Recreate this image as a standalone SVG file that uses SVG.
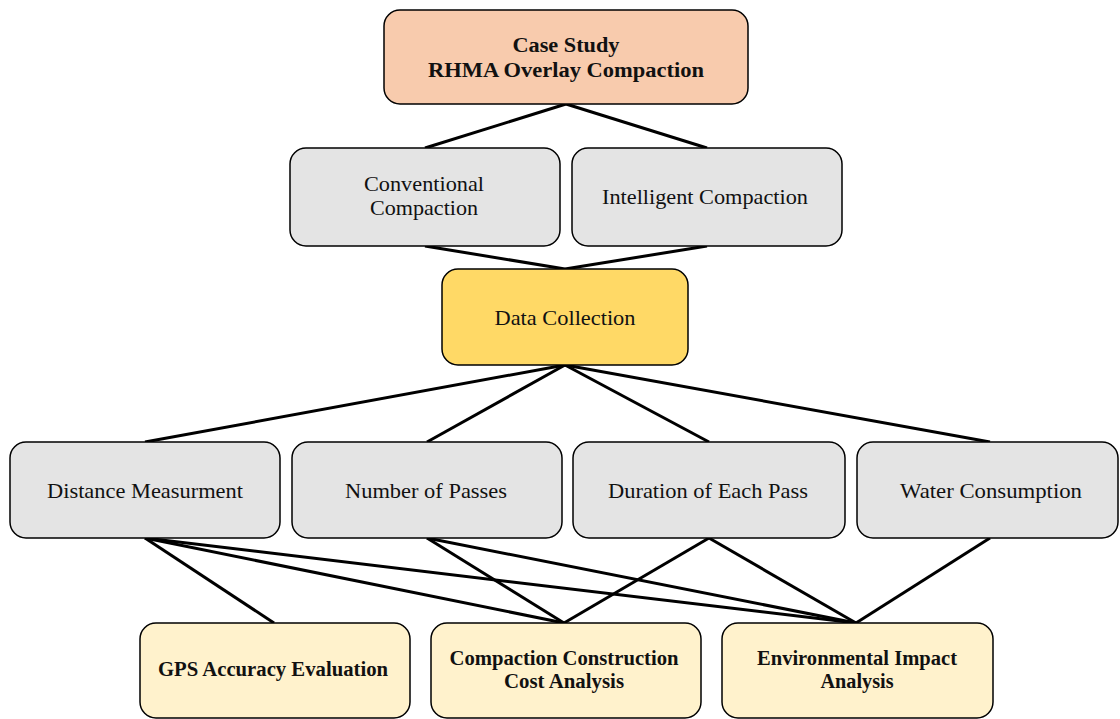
<svg xmlns="http://www.w3.org/2000/svg" width="1120" height="719" viewBox="0 0 1120 719">
<style>
.box{stroke:#000;stroke-width:1.5}
.peach{fill:#F8CBAD}
.gray{fill:#E4E4E4}
.gold{fill:#FFD966}
.cream{fill:#FFF2CC}
text{font-family:"Liberation Serif","Times New Roman",serif;fill:#111;text-anchor:middle}
.b{font-weight:bold;font-size:20px}
.r{font-size:21px}
#connectors line{stroke:#000;stroke-width:3}
</style>
<rect width="1120" height="719" fill="#fff"/>
<g id="connectors">
<line x1="566" y1="104" x2="425" y2="148"/>
<line x1="566" y1="104" x2="707" y2="148"/>
<line x1="425" y1="246" x2="565" y2="269"/>
<line x1="707" y1="246" x2="565" y2="269"/>
<line x1="565" y1="365" x2="145" y2="442"/>
<line x1="565" y1="365" x2="427" y2="442"/>
<line x1="565" y1="365" x2="709" y2="442"/>
<line x1="565" y1="365" x2="990" y2="442"/>
<line x1="145" y1="538" x2="274" y2="623"/>
<line x1="145" y1="538" x2="564" y2="623"/>
<line x1="145" y1="538" x2="856" y2="623"/>
<line x1="427" y1="538" x2="564" y2="623"/>
<line x1="427" y1="538" x2="856" y2="623"/>
<line x1="709" y1="538" x2="564" y2="623"/>
<line x1="709" y1="538" x2="856" y2="623"/>
<line x1="990" y1="538" x2="856" y2="623"/>
</g>
<g id="case-study">
<rect class="box peach" x="384" y="10" width="364" height="94" rx="16"/>
<text class="b" x="566" y="52" textLength="107" lengthAdjust="spacingAndGlyphs">Case Study</text>
<text class="b" x="566" y="77" textLength="276" lengthAdjust="spacingAndGlyphs">RHMA Overlay Compaction</text>
</g>
<g id="conventional">
<rect class="box gray" x="290" y="148" width="270" height="98" rx="16"/>
<text class="r" x="424" y="191" textLength="120" lengthAdjust="spacingAndGlyphs">Conventional</text>
<text class="r" x="424" y="215" textLength="108" lengthAdjust="spacingAndGlyphs">Compaction</text>
</g>
<g id="intelligent">
<rect class="box gray" x="572" y="148" width="270" height="98" rx="16"/>
<text class="r" x="705" y="204" textLength="206" lengthAdjust="spacingAndGlyphs">Intelligent Compaction</text>
</g>
<g id="data-collection">
<rect class="box gold" x="442" y="269" width="246" height="96" rx="16"/>
<text class="r" x="565" y="325" textLength="141" lengthAdjust="spacingAndGlyphs">Data Collection</text>
</g>
<g id="distance">
<rect class="box gray" x="10" y="442" width="270" height="96" rx="16"/>
<text class="r" x="145" y="498" textLength="196" lengthAdjust="spacingAndGlyphs">Distance Measurment</text>
</g>
<g id="passes">
<rect class="box gray" x="292" y="442" width="270" height="96" rx="16"/>
<text class="r" x="426" y="498" textLength="162" lengthAdjust="spacingAndGlyphs">Number of Passes</text>
</g>
<g id="duration">
<rect class="box gray" x="573" y="442" width="272" height="96" rx="16"/>
<text class="r" x="708" y="498" textLength="200" lengthAdjust="spacingAndGlyphs">Duration of Each Pass</text>
</g>
<g id="water">
<rect class="box gray" x="857" y="442" width="261" height="96" rx="16"/>
<text class="r" x="991" y="498" textLength="182" lengthAdjust="spacingAndGlyphs">Water Consumption</text>
</g>
<g id="gps">
<rect class="box cream" x="140" y="623" width="270" height="95" rx="16"/>
<text class="b" x="273" y="676" textLength="230" lengthAdjust="spacingAndGlyphs">GPS Accuracy Evaluation</text>
</g>
<g id="cost">
<rect class="box cream" x="431" y="623" width="270" height="95" rx="16"/>
<text class="b" x="564" y="665" textLength="229" lengthAdjust="spacingAndGlyphs">Compaction Construction</text>
<text class="b" x="564" y="688" textLength="120" lengthAdjust="spacingAndGlyphs">Cost Analysis</text>
</g>
<g id="environmental">
<rect class="box cream" x="722" y="623" width="271" height="95" rx="16"/>
<text class="b" x="857" y="665" textLength="200" lengthAdjust="spacingAndGlyphs">Environmental Impact</text>
<text class="b" x="857" y="688" textLength="73" lengthAdjust="spacingAndGlyphs">Analysis</text>
</g>
</svg>
